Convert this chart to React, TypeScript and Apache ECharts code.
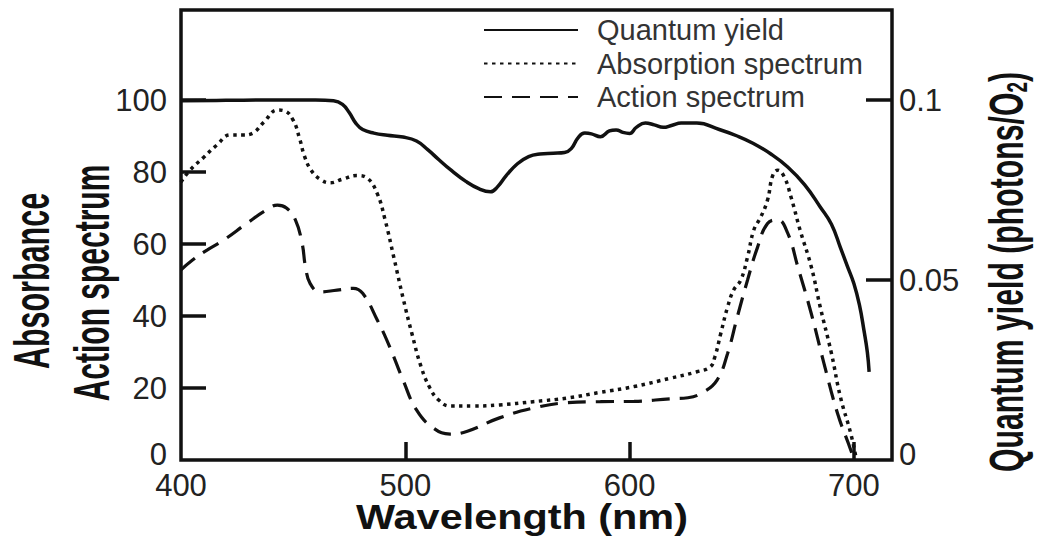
import React, { useEffect, useRef } from 'react';
import * as echarts from 'echarts';

// Wavelength (nm) and values
const qyWavelength = [400, 420, 440, 460, 468, 472, 475, 478, 481, 486, 492, 499, 505, 510, 515, 520, 527, 533, 538, 541, 545, 550, 555, 560, 566, 571, 574, 577, 580, 583, 587, 591, 594, 597, 600, 603, 607, 611, 615, 619, 623, 630, 640, 648, 655, 663, 670.5, 678, 685, 690, 694, 697, 700, 702.5, 704.5, 706, 706.8];
const qyValue = [0.0998, 0.0999, 0.1, 0.1, 0.0998, 0.0988, 0.0965, 0.0935, 0.0918, 0.0908, 0.0902, 0.0897, 0.0886, 0.0862, 0.0834, 0.0807, 0.0774, 0.0753, 0.0745, 0.0758, 0.079, 0.0823, 0.0843, 0.085, 0.0852, 0.0854, 0.0865, 0.0895, 0.0908, 0.0906, 0.0898, 0.0914, 0.0917, 0.091, 0.0907, 0.0924, 0.0936, 0.0931, 0.0924, 0.093, 0.0936, 0.0936, 0.0918, 0.09, 0.088, 0.085, 0.0814, 0.0765, 0.0703, 0.0655, 0.059, 0.054, 0.049, 0.043, 0.036, 0.03, 0.0245];

const absWavelength = [400, 404, 410, 416, 422, 428, 432, 437, 443, 446, 450, 453, 455, 458, 462, 466.5, 472, 478.5, 483, 487.5, 491, 495, 499, 503, 507, 511, 515, 520, 530, 542, 557, 572, 587, 602, 618, 630, 636, 638, 640.6, 643.7, 646.4, 649.6, 652.6, 655.4, 658.5, 661.5, 663.8, 666, 668.9, 672, 676, 681, 685, 690, 694, 698.6, 701];
const absValue = [77.2, 80.5, 84, 87.5, 90.3, 90.3, 90.8, 93.9, 97.2, 97, 94.4, 89, 84.5, 80.5, 78, 77, 78, 79, 78.3, 74, 66.7, 56, 45, 35, 26, 20, 16.6, 15, 15, 15.3, 16.2, 17.2, 18.8, 20.4, 22.7, 24.5, 25.9, 28.6, 35, 42.5, 47.2, 50, 56.4, 63.9, 67.5, 72.2, 79, 80.5, 78.7, 73, 63.9, 53.7, 42.5, 29.6, 17.5, 7.4, 0.5];

const actWavelength = [400, 405, 411.6, 418.8, 429.5, 438, 443, 447, 451, 454, 455.5, 457.6, 462, 469.6, 476.8, 481, 487.5, 493, 499, 505, 512.5, 520, 527.7, 542, 557, 572, 587, 602, 618, 626, 633, 639, 643.7, 648, 652.6, 657, 661.5, 666, 670.5, 675, 681, 686.6, 692.7, 698.6, 700];
const actValue = [52.8, 55.5, 58.3, 61, 65.8, 69.4, 70.8, 70, 66.7, 60.2, 53.7, 49, 46.7, 47.2, 47.7, 46.3, 38.9, 31.5, 22.2, 13.9, 8.9, 7.2, 8, 11.7, 14.4, 15.9, 16.2, 16.3, 17, 17.3, 18.9, 22.2, 29.6, 39.7, 50, 59, 65.7, 66.7, 63, 53.7, 40.7, 27, 13, 2.8, 0];

const xTickValues = [500, 600, 700];
const xLabelValues = [400, 500, 600, 700];
const leftTickValues = [20, 40, 60, 80, 100];
const leftLabelValues = [0, 20, 40, 60, 80, 100];
const rightTickValues = [0.05, 0.1];
const rightLabelValues = [0, 0.05, 0.1];

const seriesNames = ['Quantum yield', 'Absorption spectrum', 'Action spectrum'];

const zip = (xs: number[], ys: number[]) => xs.map((x, i) => [x, ys[i]]);

const FONT = '"Liberation Sans", Arial, Helvetica, sans-serif';
const INK = '#111';
const LABEL = '#222';

export default function App() {
  const ref = useRef<HTMLDivElement>(null);

  useEffect(() => {
    document.body.style.margin = '0';
    if (!ref.current) return;
    const chart = echarts.init(ref.current, null, { renderer: 'svg' });
    const tickStyle = { color: INK, width: 3.5 };
    const labelStyle = { color: LABEL, fontSize: 31, fontFamily: FONT };
    const zeroRich = { z: { color: LABEL, fontSize: 31, fontFamily: FONT, padding: [0, 0, 12, 0] } };
    const zeroFormatter = (v: number) => (v === 0 ? '{z|0}' : String(v));
    chart.setOption({
      animation: false,
      backgroundColor: '#fff',
      grid: {
        left: 181,
        right: 150,
        top: 10,
        bottom: 84,
        show: true,
        borderColor: INK,
        borderWidth: 3.5,
        backgroundColor: 'transparent',
        containLabel: false,
        outerBoundsMode: 'none',
      },
      legend: {
        orient: 'vertical',
        left: 483,
        top: 15,
        padding: 0,
        itemWidth: 94,
        itemHeight: 14,
        itemGap: 3.5,
        data: seriesNames,
        itemStyle: { opacity: 0 },
        textStyle: { color: '#333', fontSize: 29, fontFamily: FONT, lineHeight: 30, padding: [0, 0, 0, 14] },
        selectedMode: false,
      },
      xAxis: {
        type: 'value',
        min: 400,
        max: 717,
        axisLine: { show: false },
        splitLine: { show: false },
        axisTick: { show: true, inside: true, length: 18, lineStyle: tickStyle, customValues: xTickValues },
        axisLabel: { ...labelStyle, margin: 10, customValues: xLabelValues },
      },
      yAxis: [
        {
          type: 'value',
          min: 0,
          max: 125,
          position: 'left',
          axisLine: { show: false },
          splitLine: { show: false },
          axisTick: { show: true, inside: true, length: 25, lineStyle: tickStyle, customValues: leftTickValues },
          axisLabel: { ...labelStyle, margin: 14, customValues: leftLabelValues, formatter: zeroFormatter, rich: zeroRich },
        },
        {
          type: 'value',
          min: 0,
          max: 0.125,
          position: 'right',
          axisLine: { show: false },
          splitLine: { show: false },
          axisTick: { show: true, inside: true, length: 26, lineStyle: tickStyle, customValues: rightTickValues },
          axisLabel: { ...labelStyle, margin: 7, customValues: rightLabelValues, formatter: zeroFormatter, rich: zeroRich },
        },
      ],
      graphic: [
        {
          type: 'text',
          x: 32,
          y: 281,
          rotation: Math.PI / 2,
          scaleX: 0.61,
          style: { text: 'Absorbance', fontSize: 50, fontWeight: 'bold', fontFamily: FONT, fill: INK, align: 'center', verticalAlign: 'middle' },
        },
        {
          type: 'text',
          x: 92,
          y: 283,
          rotation: Math.PI / 2,
          scaleX: 0.6,
          style: { text: 'Action spectrum', fontSize: 50, fontWeight: 'bold', fontFamily: FONT, fill: INK, align: 'center', verticalAlign: 'middle' },
        },
        {
          type: 'text',
          x: 1006,
          y: 272,
          rotation: Math.PI / 2,
          scaleX: 0.63,
          style: {
            text: 'Quantum yield (photons/O{s|2})',
            fontSize: 48,
            fontWeight: 'bold',
            fontFamily: FONT,
            fill: INK,
            lineHeight: 50,
            align: 'center',
            verticalAlign: 'middle',
            rich: {
              s: { fontSize: 30, fontWeight: 'bold', fontFamily: FONT, fill: INK, verticalAlign: 'bottom', lineHeight: 24 },
            },
          },
        },
        {
          type: 'text',
          x: 522,
          y: 516,
          scaleX: 1.15,
          style: { text: 'Wavelength (nm)', fontSize: 36, fontWeight: 'bold', fontFamily: FONT, fill: INK, align: 'center', verticalAlign: 'middle' },
        },
      ],
      series: [
        {
          name: seriesNames[0],
          type: 'line',
          yAxisIndex: 1,
          data: zip(qyWavelength, qyValue),
          showSymbol: false,
          symbol: 'none',
          smooth: 0.45,
          lineStyle: { color: INK, width: 3.5, type: 'solid' },
          itemStyle: { color: INK },
        },
        {
          name: seriesNames[1],
          type: 'line',
          yAxisIndex: 0,
          data: zip(absWavelength, absValue),
          showSymbol: false,
          symbol: 'none',
          smooth: 0.45,
          lineStyle: { color: INK, width: 3.5, type: [3.5, 4.5], cap: 'butt' },
          itemStyle: { color: INK },
        },
        {
          name: seriesNames[2],
          type: 'line',
          yAxisIndex: 0,
          data: zip(actWavelength, actValue),
          showSymbol: false,
          symbol: 'none',
          smooth: 0.45,
          lineStyle: { color: INK, width: 3.2, type: [18, 10], cap: 'butt' },
          itemStyle: { color: INK },
        },
      ],
    });
    return () => chart.dispose();
  }, []);

  return <div ref={ref} style={{ position: 'absolute', left: 0, top: 0, width: 1042, height: 544 }} />;
}
